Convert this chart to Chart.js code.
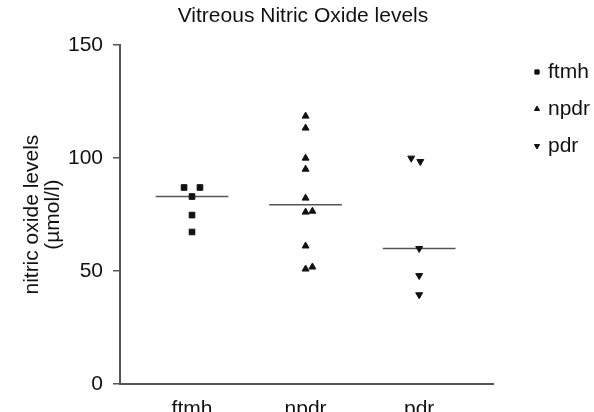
<!DOCTYPE html>
<html>
<head>
<meta charset="utf-8">
<script src="https://cdn.jsdelivr.net/npm/chart.js@4.4.1/dist/chart.umd.min.js"></script>
<style>
  html, body { margin: 0; padding: 0; background: #fff; }
  #wrap { width: 594px; height: 412px; }
</style>
</head>
<body>
<div id="wrap"><canvas id="chart" width="594" height="412"></canvas></div>
<script>
// Vitreous NO levels per group (umol/l)
const groups = ['ftmh', 'npdr', 'pdr'];
const ftmhValues = [87, 87, 83, 74.8, 67.3];
const npdrValues = [118.6, 113.3, 100, 95.1, 82.3, 76.1, 76.5, 61.1, 50.9, 51.8];
const pdrValues = [100, 98.5, 60, 48, 39.5];
// sideways spread of the dots inside each column (category units)
const ftmhJitter = [-0.07, 0.07, 0, 0, 0];
const npdrJitter = [0, 0, 0, 0, 0, 0, 0.06, 0, 0, 0.06];
const pdrJitter = [-0.07, 0.01, 0, 0, 0];
const yTicks = [0, 50, 100, 150];

const groupValues = [ftmhValues, npdrValues, pdrValues];
const groupJitter = [ftmhJitter, npdrJitter, pdrJitter];
const markers = [
  { pointStyle: 'rect', rotation: 0 },
  { pointStyle: 'triangle', rotation: 0 },
  { pointStyle: 'triangle', rotation: 180 }
];
const ink = '#111';
const axisGrey = '#555';
const medianHalfWidth = 0.32;

Chart.defaults.font.family = '"Liberation Sans", Arial, Helvetica, sans-serif';
Chart.defaults.font.size = 21;
Chart.defaults.color = ink;

function median(values) {
  const s = [...values].sort((a, b) => a - b);
  const m = Math.floor(s.length / 2);
  return s.length % 2 ? s[m] : (s[m - 1] + s[m]) / 2;
}

const pointSets = groups.map((name, i) => ({
  type: 'scatter',
  label: name,
  data: groupValues[i].map((v, j) => ({ x: i + 1 + groupJitter[i][j], y: v })),
  pointStyle: markers[i].pointStyle,
  rotation: markers[i].rotation,
  pointRadius: 4,
  pointHoverRadius: 4,
  backgroundColor: ink,
  borderColor: ink,
  borderWidth: 1,
  order: 1
}));

const medianSets = groups.map((name, i) => {
  const m = median(groupValues[i]);
  return {
    type: 'line',
    label: name + ' median',
    data: [{ x: i + 1 - medianHalfWidth, y: m }, { x: i + 1 + medianHalfWidth, y: m }],
    borderColor: axisGrey,
    borderWidth: 1.5,
    pointRadius: 0,
    order: 2
  };
});

// legend drawn at the right, one row per group
const sideLegend = {
  id: 'sideLegend',
  afterDraw(chart) {
    const ctx = chart.ctx;
    ctx.save();
    ctx.font = '21px "Liberation Sans", Arial, sans-serif';
    ctx.textBaseline = 'middle';
    ctx.fillStyle = ink;
    ctx.strokeStyle = ink;
    pointSets.forEach((ds, i) => {
      const y = 72 + 37 * i;
      Chart.helpers.drawPoint(ctx, {
        pointStyle: ds.pointStyle, rotation: ds.rotation, radius: 3, borderWidth: 1
      }, 537, y);
      ctx.fillText(ds.label, 548, y);
    });
    ctx.restore();
  }
};

new Chart(document.getElementById('chart'), {
  data: { datasets: [...pointSets, ...medianSets] },
  options: {
    responsive: false,
    animation: false,
    layout: { padding: { left: 12, right: 0, top: 0, bottom: 0 } },
    plugins: {
      legend: { display: false },
      tooltip: { enabled: true },
      title: {
        display: true,
        text: 'Vitreous Nitric Oxide levels',
        font: { size: 21, weight: 'normal' },
        color: ink,
        padding: { top: 4, bottom: 16 }
      }
    },
    scales: {
      x: {
        type: 'linear',
        min: 0.366,
        max: 3.65,
        afterBuildTicks: s => { s.ticks = groups.map((g, i) => ({ value: i + 1 })); },
        afterFit: s => { s.height = 28; },
        border: { color: axisGrey, width: 2 },
        grid: { display: false },
        ticks: {
          callback: v => groups[v - 1] || '',
          padding: 5,
          maxRotation: 0,
          autoSkip: false
        }
      },
      y: {
        type: 'linear',
        min: 0,
        max: 150,
        afterBuildTicks: s => { s.ticks = yTicks.map(v => ({ value: v })); },
        afterFit: s => { s.width = 108; },
        border: { color: axisGrey, width: 2 },
        grid: { drawOnChartArea: false, drawTicks: true, tickLength: 7, color: axisGrey, lineWidth: 1.5 },
        ticks: { padding: 10 },
        title: {
          display: true,
          text: ['nitric oxide levels', '(µmol/l)'],
          font: { size: 21, lineHeight: 1 },
          padding: { top: 10, bottom: 0 }
        }
      },
      yr: {
        type: 'linear',
        position: 'right',
        afterFit: s => { s.width = 101; },
        grid: { display: false },
        border: { display: false },
        ticks: { display: false }
      }
    }
  },
  plugins: [sideLegend]
});
</script>
</body>
</html>
